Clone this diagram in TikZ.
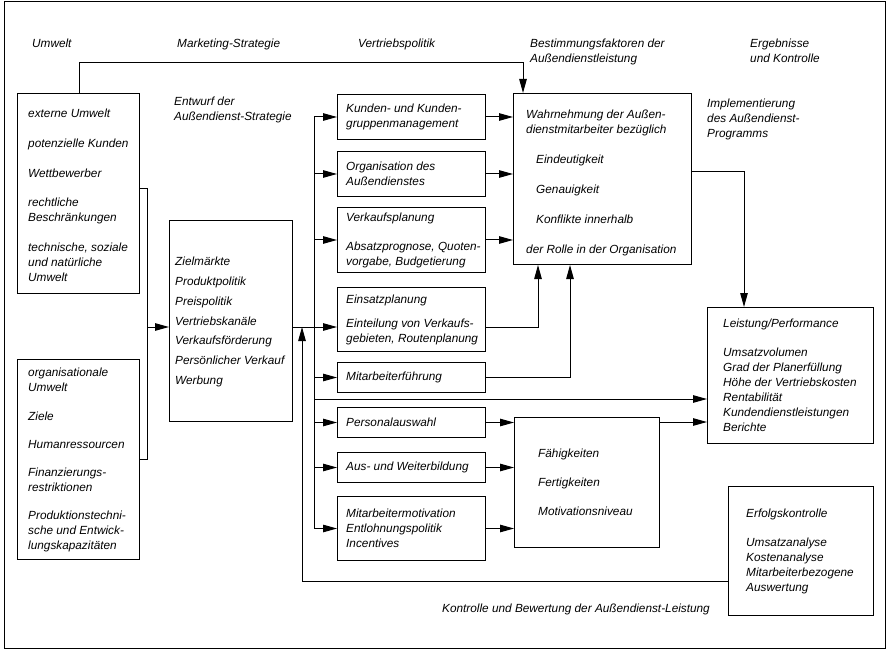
\documentclass[tikz,border=0pt]{standalone}
\usepackage{fontspec}
\setmainfont{Liberation Sans}
\usetikzlibrary{arrows.meta}
\newcommand\dfont{\fontsize{11.8pt}{15pt}\selectfont\itshape}
\newcommand\zfont{\fontsize{11.8pt}{19.7pt}\selectfont\itshape}
\begin{document}
\begin{tikzpicture}[x=1pt,y=-1pt,
  ln/.style={line width=1pt},
  box/.style={draw, line width=1pt, anchor=north west, inner sep=0pt},
  txt/.style={font=\dfont, align=left, inner sep=0pt, anchor=west},
  hdr/.style={font=\dfont, align=left, inner sep=0pt, anchor=north west},
  arr/.style={line width=1pt, -{Triangle[length=14pt,width=7.5pt]}},
]
\useasboundingbox (0,0) rectangle (888,652);
\draw[ln] (4,2) rectangle (885,648);

% headers
\node[hdr] (h1) at (32,38.5) {Umwelt};
\node[hdr] (h2) at (177,38.5) {Marketing-Strategie};
\node[hdr] (h3) at (358,38.5) {Vertriebspolitik};
\node[hdr] (h4) at (530,38.5) {Bestimmungsfaktoren der\\Außendienstleistung};
\node[hdr] (h5) at (750,38.5) {Ergebnisse\\und Kontrolle};
\node[hdr] (h6) at (174,96.5) {Entwurf der\\Außendienst-Strategie};
\node[hdr] (h7) at (707,98.5) {Implementierung\\des Außendienst-\\Programms};
\node[hdr] (h8) at (442,603.5) {Kontrolle und Bewertung der Außendienst-Leistung};

% boxes
\node[box, minimum width=122pt, minimum height=200pt] (ext) at (17,93) {};
\node[txt] (ext-t) at ([xshift=11pt,yshift=-1.5pt]ext.west) {externe Umwelt\\[15pt]potenzielle Kunden\\[15pt]Wettbewerber\\[14pt]rechtliche\\Beschränkungen\\[15pt]technische, soziale\\und natürliche\\Umwelt};

\node[box, minimum width=122pt, minimum height=200pt] (org) at (17,359) {};
\node[txt] (org-t) at ([xshift=11pt]org.west) {organisationale\\Umwelt\\[14pt]Ziele\\[13pt]Humanressourcen\\[13pt]Finanzierungs-\\restriktionen\\[13pt]Produktionstechni-\\sche und Entwick-\\lungskapazitäten};

\node[box, minimum width=123pt, minimum height=201pt] (ziel) at (169,220) {};
\node[txt, font=\zfont] (ziel-t) at ([xshift=6pt,yshift=-1pt]ziel.west) {Zielmärkte\\Produktpolitik\\Preispolitik\\Vertriebskanäle\\Verkaufsförderung\\Persönlicher Verkauf\\Werbung};

\node[box, minimum width=148pt, minimum height=45pt] (kunden) at (337,94) {};
\node[txt] (kunden-t) at ([xshift=9pt]kunden.west) {Kunden- und Kunden-\\gruppenmanagement};
\node[box, minimum width=148pt, minimum height=45pt] (orga) at (337,151) {};
\node[txt] (orga-t) at ([xshift=9pt]orga.west) {Organisation des\\Außendienstes};
\node[box, minimum width=148pt, minimum height=65pt] (verkauf) at (337,207) {};
\node[txt] (verkauf-t) at ([xshift=9pt]verkauf.west) {Verkaufsplanung\\[14pt]Absatzprognose, Quoten-\\vorgabe, Budgetierung};
\node[box, minimum width=148pt, minimum height=64pt] (einsatz) at (337,287) {};
\node[txt] (einsatz-t) at ([xshift=9pt]einsatz.west) {Einsatzplanung\\[9pt]Einteilung von Verkaufs-\\gebieten, Routenplanung};
\node[box, minimum width=148pt, minimum height=30pt] (fuehr) at (337,362) {};
\node[txt] (fuehr-t) at ([xshift=9pt]fuehr.west) {Mitarbeiterführung};
\node[box, minimum width=148pt, minimum height=30pt] (personal) at (337,407) {};
\node[txt] (personal-t) at ([xshift=9pt]personal.west) {Personalauswahl};
\node[box, minimum width=148pt, minimum height=30pt] (aus) at (337,452) {};
\node[txt] (aus-t) at ([xshift=9pt]aus.west) {Aus- und Weiterbildung};
\node[box, minimum width=148pt, minimum height=64pt] (motiv) at (337,496) {};
\node[txt] (motiv-t) at ([xshift=9pt]motiv.west) {Mitarbeitermotivation\\Entlohnungspolitik\\Incentives};

\node[box, minimum width=178pt, minimum height=171pt] (wahr) at (513,93) {};
\node[txt] (wahr-t) at ([xshift=13pt,yshift=-4pt]wahr.west) {Wahrnehmung der Außen-\\dienstmitarbeiter bezüglich\\[15pt]\hspace*{10pt}Eindeutigkeit\\[15pt]\hspace*{10pt}Genauigkeit\\[15pt]\hspace*{10pt}Konflikte innerhalb\\[15pt]der Rolle in der Organisation};

\node[box, minimum width=145pt, minimum height=130pt] (faeh) at (514,417) {};
\node[txt] (faeh-t) at ([xshift=24pt]faeh.west) {Fähigkeiten\\[14pt]Fertigkeiten\\[14pt]Motivationsniveau};

\node[box, minimum width=166pt, minimum height=136pt] (leist) at (707,307) {};
\node[txt] (leist-t) at ([xshift=16pt]leist.west) {Leistung/Performance\\[14pt]Umsatzvolumen\\Grad der Planerfüllung\\Höhe der Vertriebskosten\\Rentabilität\\Kundendienstleistungen\\Berichte};

\node[box, minimum width=145pt, minimum height=129pt] (erfolg) at (728,486) {};
\node[txt] (erfolg-t) at ([xshift=18pt]erfolg.west) {Erfolgskontrolle\\[14pt]Umsatzanalyse\\Kostenanalyse\\Mitarbeiterbezogene\\Auswertung};

% helper coordinates
\coordinate (b1) at (147,189);
\coordinate (b2) at (147,459);
\coordinate (br) at (147,327);
\coordinate (bus) at (314,0);
\coordinate (lp) at (314,399);
\coordinate (fb) at (302,581);
\coordinate (yW) at (0,172);
\coordinate (yFa) at (0,422);

% connectors
\draw[arr] ([xshift=62pt]ext.north west) -- ++(0,-30) -| ([xshift=10pt]wahr.north west);
\draw[ln] (ext.east |- b1) -- (b1) -- (b2) -- (org.east |- b2);
\draw[arr] (br) -- (ziel.west |- br);
\draw[arr] (ziel.east |- br) -- (einsatz.west |- br);
\draw[arr] (erfolg.west |- fb) -- (fb) -- (fb |- br);
\draw[ln] (bus |- kunden.west) -- (bus |- motiv.west);
\foreach \b in {kunden,orga,verkauf,fuehr,personal,aus,motiv}
  \draw[arr] (bus |- \b.west) -- (\b.west);
\draw[arr] (lp) -- (lp -| leist.west);
\foreach \b in {kunden,orga,verkauf}
  \draw[arr] (\b.east) -- (\b.east -| wahr.west);
\draw[arr] (einsatz.east |- br) -| ([xshift=25pt]wahr.south west);
\draw[arr] (fuehr.east) -| ([xshift=57pt]wahr.south west);
\foreach \b in {personal,aus,motiv}
  \draw[arr] (\b.east) -- (\b.east -| faeh.west);
\draw[arr] (faeh.east |- yFa) -- (yFa -| leist.west);
\draw[arr] (wahr.east |- yW) -| ([xshift=37pt]leist.north west);
\end{tikzpicture}
\end{document}
